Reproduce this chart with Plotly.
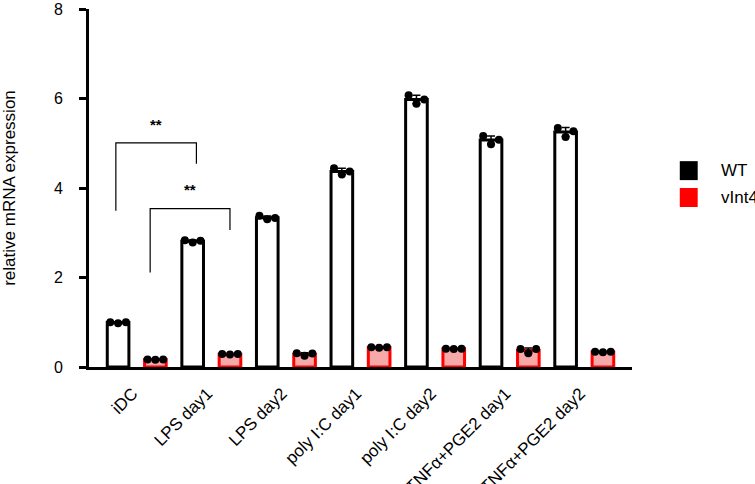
import numpy as np
import plotly.graph_objects as go

categories = ["iDC", "LPS day1", "LPS day2", "poly I:C day1", "poly I:C day2",
              "TNFα+PGE2 day1", "TNFα+PGE2 day2"]
wt_points = [
    [1.00, 0.98, 1.00],
    [2.83, 2.78, 2.82],
    [3.38, 3.30, 3.33],
    [4.44, 4.30, 4.37],
    [6.07, 5.88, 5.98],
    [5.16, 4.98, 5.08],
    [5.34, 5.14, 5.27],
]
vint4_points = [
    [0.17, 0.16, 0.17],
    [0.29, 0.28, 0.29],
    [0.31, 0.25, 0.30],
    [0.44, 0.43, 0.44],
    [0.41, 0.40, 0.41],
    [0.40, 0.31, 0.40],
    [0.34, 0.33, 0.34],
]
y_ticks = [0, 2, 4, 6, 8]
series_names = ["WT", "vInt4"]

FONT = "Arial, Liberation Sans, sans-serif"
idx = np.arange(len(categories))
bar_w = 0.29
jit = np.array([-0.105, 0.0, 0.105])

fig = go.Figure()

styles = [
    dict(fill="white", line="black", offset=-0.25),
    dict(fill="#F7A8A8", line="#FF0000", offset=0.25),
]
for pts, st, name in zip([wt_points, vint4_points], styles, series_names):
    arr = np.array(pts)
    means = arr.mean(axis=1)
    sds = arr.std(axis=1, ddof=1)
    fig.add_trace(go.Bar(
        x=idx + st["offset"], y=means, width=bar_w, name=name,
        marker=dict(color=st["fill"], line=dict(color=st["line"], width=3)),
        error_y=dict(type="data", array=sds, visible=True, color="black",
                     thickness=1.5, width=4),
        showlegend=False,
    ))
for pts, st in zip([wt_points, vint4_points], styles):
    arr = np.array(pts)
    xs = (idx[:, None] + st["offset"] + jit[None, :]).ravel()
    fig.add_trace(go.Scatter(
        x=xs, y=arr.ravel(), mode="markers",
        marker=dict(color="black", size=8), showlegend=False,
    ))

# significance brackets
brackets = [
    dict(x0=-0.28, x1=0.80, ytop=5.01, yl=3.49, yr=4.54, ty=5.43),
    dict(x0=0.18, x1=1.25, ytop=3.54, yl=2.11, yr=3.06, ty=3.96),
]
for b in brackets:
    fig.add_shape(type="path",
                  path=f"M {b['x0']} {b['yl']} L {b['x0']} {b['ytop']} L {b['x1']} {b['ytop']} L {b['x1']} {b['yr']}",
                  line=dict(color="black", width=1.2), xref="x", yref="y")
    fig.add_annotation(x=(b["x0"] + b["x1"]) / 2, y=b["ty"], text="<b>**</b>",
                       showarrow=False, font=dict(family=FONT, size=15, color="black"))

# legend drawn manually
leg = [("WT", "black", 0.575), ("vInt4", "#FF0000", 0.500)]
for name, col, ytop in leg:
    fig.add_shape(type="rect", xref="paper", yref="paper",
                  x0=1.088, x1=1.121, y0=ytop - 0.053, y1=ytop,
                  fillcolor=col, line=dict(width=0))
    fig.add_annotation(xref="paper", yref="paper", x=1.16, y=ytop - 0.0265,
                       text=name, showarrow=False, xanchor="left",
                       font=dict(family=FONT, size=17, color="black"))

fig.update_layout(
    width=755, height=484,
    margin=dict(l=89, r=123, t=9, b=117, autoexpand=False),
    plot_bgcolor="white", paper_bgcolor="white",
    font=dict(family=FONT, color="black"),
    showlegend=False,
    xaxis=dict(range=[-0.64, 6.64], tickmode="array", tickvals=idx, ticktext=categories,
               tickangle=-45, showline=True, linewidth=3, linecolor="black",
               ticks="", showgrid=False, zeroline=False, automargin=False,
               ticklabelstandoff=7, ticklabelshift=-4,
               tickfont=dict(family=FONT, size=17)),
    yaxis=dict(range=[0, 8], tickvals=y_ticks, showline=True, linewidth=3,
               linecolor="black", ticks="outside", ticklen=7, tickwidth=3,
               tickcolor="black", showgrid=False, zeroline=False, automargin=False,
               tickfont=dict(family=FONT, size=16), ticklabelstandoff=13,
               title=dict(text="relative mRNA expression", font=dict(family=FONT, size=17),
                          standoff=36)),
)

fig.write_html("out.html", config={"displayModeBar": False},
               post_script="document.body.style.margin='0';")
